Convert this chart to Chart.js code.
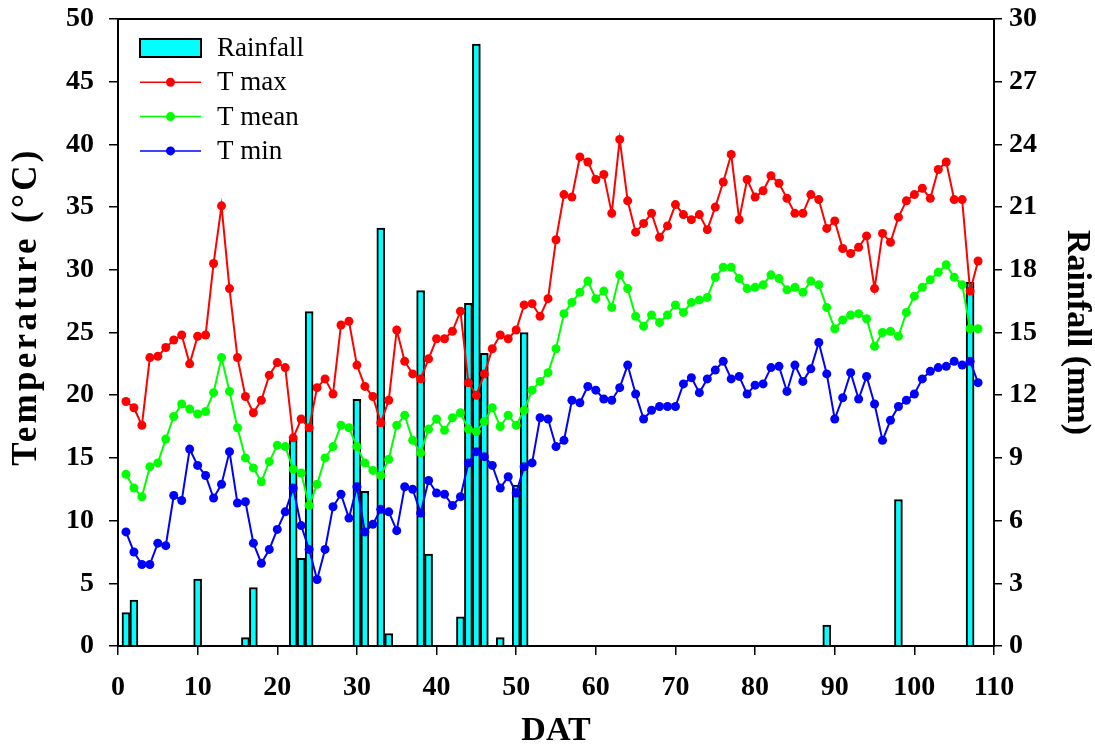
<!DOCTYPE html>
<html>
<head>
<meta charset="utf-8">
<script src="https://cdn.jsdelivr.net/npm/chart.js@4.4.1/dist/chart.umd.min.js"></script>
<style>
    html, body { margin: 0; padding: 0; background: #fff; }
    #wrap { width: 1095px; height: 748px; }
</style>
</head>
<body>
<div id="wrap"><canvas id="weather_chart" width="1095" height="748"></canvas></div>
<script>
"use strict";

// Days after transplanting (1..108)
var days = Array.from({ length: 108 }, (_, i) => i + 1);

// Daily temperatures (°C)
var tMax = [
    19.5, 19.0, 17.6, 23.0, 23.1, 23.8, 24.4, 24.8, 22.5, 24.7,
    24.8, 30.5, 35.1, 28.5, 23.0, 19.9, 18.6, 19.6, 21.6, 22.6,
    22.2, 16.6, 18.1, 17.4, 20.6, 21.3, 20.1, 25.6, 25.9, 22.4,
    20.7, 19.9, 17.8, 19.6, 25.2, 22.7, 21.7, 21.3, 22.9, 24.5,
    24.5, 25.1, 26.7, 21.0, 20.0, 21.7, 23.7, 24.8, 24.5, 25.2,
    27.2, 27.3, 26.3, 27.7, 32.4, 36.0, 35.8, 39.0, 38.6, 37.2,
    37.6, 34.5, 40.4, 35.5, 33.0, 33.7, 34.5, 32.6, 33.5, 35.2,
    34.4, 34.0, 34.4, 33.2, 35.0, 37.0, 39.2, 34.0, 37.2, 35.8,
    36.3, 37.5, 36.9, 35.7, 34.5, 34.5, 36.0, 35.6, 33.3, 33.9,
    31.7, 31.3, 31.8, 32.7, 28.5, 32.9, 32.2, 34.2, 35.5, 36.0,
    36.5, 35.7, 38.0, 38.6, 35.6, 35.6, 28.3, 30.7
];
var tMean = [
    13.7, 12.6, 11.9, 14.3, 14.6, 16.5, 18.3, 19.3, 18.9, 18.5,
    18.7, 20.2, 23.0, 20.3, 17.4, 15.0, 14.2, 13.1, 14.7, 16.0,
    15.9, 14.1, 13.8, 11.2, 12.9, 15.0, 15.9, 17.6, 17.4, 15.9,
    14.6, 14.0, 13.6, 14.9, 17.6, 18.4, 16.4, 15.4, 17.3, 18.1,
    17.2, 18.2, 18.6, 17.3, 17.1, 17.9, 19.0, 17.5, 18.4, 17.6,
    18.8, 20.4, 21.1, 21.8, 23.7, 26.5, 27.4, 28.2, 29.1, 27.7,
    28.3, 27.0, 29.6, 28.5, 26.3, 25.5, 26.4, 25.8, 26.4, 27.2,
    26.6, 27.4, 27.6, 27.8, 29.4, 30.2, 30.2, 29.3, 28.5, 28.6,
    28.8, 29.6, 29.3, 28.4, 28.6, 28.2, 29.1, 28.8, 27.0, 25.3,
    26.0, 26.4, 26.5, 26.1, 23.9, 25.0, 25.1, 24.7, 26.6, 27.9,
    28.6, 29.2, 29.8, 30.4, 29.4, 28.8, 25.3, 25.3
];
var tMin = [
    9.1, 7.5, 6.5, 6.5, 8.2, 8.0, 12.0, 11.6, 15.7, 14.4,
    13.6, 11.8, 12.9, 15.5, 11.4, 11.5, 8.2, 6.6, 7.7, 9.3,
    10.7, 12.6, 9.6, 7.7, 5.3, 7.7, 11.1, 12.1, 10.2, 12.7,
    9.1, 9.7, 10.9, 10.7, 9.2, 12.7, 12.5, 10.6, 13.2, 12.2,
    12.1, 11.2, 11.9, 14.6, 15.5, 15.1, 14.4, 12.6, 13.5, 12.2,
    14.3, 14.6, 18.2, 18.1, 15.9, 16.4, 19.6, 19.4, 20.7, 20.4,
    19.7, 19.6, 20.6, 22.4, 20.1, 18.1, 18.8, 19.1, 19.1, 19.1,
    20.9, 21.4, 20.2, 21.3, 22.0, 22.7, 21.3, 21.5, 20.1, 20.8,
    20.9, 22.2, 22.3, 20.3, 22.4, 21.1, 22.1, 24.2, 21.7, 18.1,
    19.8, 21.8, 19.7, 21.5, 19.3, 16.4, 18.0, 19.1, 19.6, 20.1,
    21.3, 21.9, 22.2, 22.3, 22.7, 22.4, 22.7, 21.0
];

// Rainfall (mm), only the rainy days
var rainDays = [1, 2, 10, 16, 17, 22, 23, 24, 30, 31, 33, 34, 38, 39, 43, 44, 45, 46, 48, 50, 51, 89, 98, 107];
var rainMm = [1.6, 2.2, 3.2, 0.4, 2.8, 9.9, 4.2, 16.0, 11.8, 7.4, 20.0, 0.6, 17.0, 4.4, 1.4, 16.4, 28.8, 14.0, 0.4, 7.7, 15.0, 1.0, 7.0, 17.4];

// Tick labels
var datTicks = [0, 10, 20, 30, 40, 50, 60, 70, 80, 90, 100, 110];
var tempTicks = [0, 5, 10, 15, 20, 25, 30, 35, 40, 45, 50];
var rainTicks = [0, 3, 6, 9, 12, 15, 18, 21, 24, 27, 30];

var tempTitle = 'Temperature (°C)';

var serif = "'Liberation Serif', 'Times New Roman', Times, serif";

function toPoints(xs, ys) {
    return xs.map(function (x, i) { return { x: x, y: ys[i] }; });
}

function tickSetter(list) {
    return function (scale) {
        scale.ticks = list.map(function (v) { return { value: v }; });
    };
}

// fixed axis box sizes so the plot area lands where the figure has it
function fixWidth(w) {
    return function (scale) {
        scale.width = w;
        scale.paddingTop = 0;
        scale.paddingBottom = 0;
    };
}

// Box around the plot area (top side has no axis of its own)
var plotFrame = {
    id: 'plotFrame',
    afterDraw: function (chart) {
        var a = chart.chartArea, ctx = chart.ctx;
        ctx.save();
        ctx.strokeStyle = '#000';
        ctx.lineWidth = 2;
        ctx.strokeRect(a.left, a.top, a.right - a.left, a.bottom - a.top);
        ctx.restore();
    }
};

// Left axis title: the figure sets it a bit spaced out and above centre
var leftTitle = {
    id: 'leftTitle',
    afterDraw: function (chart) {
        var ctx = chart.ctx, a = chart.chartArea;
        ctx.save();
        ctx.translate(27, (a.top + a.bottom) / 2 - 26);
        ctx.rotate(-Math.PI / 2);
        ctx.font = 'bold 35px ' + serif;
        ctx.fillStyle = '#000';
        ctx.textAlign = 'center';
        ctx.textBaseline = 'middle';
        if ('letterSpacing' in ctx) {
            ctx.letterSpacing = '3.3px';
        }
        ctx.fillText(tempTitle, 0, 0);
        ctx.restore();
    }
};

// Legend drawn inside the plot, top-left
var insideLegend = {
    id: 'insideLegend',
    afterDraw: function (chart) {
        var ctx = chart.ctx, a = chart.chartArea;
        var x0 = a.left + 22, y0 = a.top + 29, gap = 34.3, symW = 61;
        ctx.save();
        ctx.font = '27px ' + serif;
        ctx.textBaseline = 'middle';
        chart.data.datasets.forEach(function (ds, i) {
            var y = y0 + i * gap;
            if (ds.type === 'bar') {
                ctx.fillStyle = ds.backgroundColor;
                ctx.fillRect(x0, y - 9, symW, 18);
                ctx.strokeStyle = '#000';
                ctx.lineWidth = 2;
                ctx.strokeRect(x0, y - 9, symW, 18);
            } else {
                ctx.strokeStyle = ds.borderColor;
                ctx.lineWidth = 1.5;
                ctx.beginPath();
                ctx.moveTo(x0, y);
                ctx.lineTo(x0 + symW, y);
                ctx.stroke();
                ctx.fillStyle = ds.backgroundColor;
                ctx.beginPath();
                ctx.arc(x0 + symW / 2, y, 4.5, 0, Math.PI * 2);
                ctx.fill();
            }
            ctx.fillStyle = '#000';
            ctx.fillText(ds.label, x0 + symW + 16, y + 1);
        });
        ctx.restore();
    }
};

function lineSet(label, values, color) {
    return {
        type: 'line',
        label: label,
        data: toPoints(days, values),
        yAxisID: 'y',
        borderColor: color,
        backgroundColor: color,
        borderWidth: 2,
        pointRadius: 4.5,
        pointBorderWidth: 0,
        pointBackgroundColor: color,
        tension: 0,
        order: 1
    };
}

var tickFont = { family: serif, size: 28, weight: 'bold' };
var titleFont = { family: serif, size: 34, weight: 'bold', lineHeight: 1 };

var config = {
    type: 'line',
    data: {
        datasets: [{
            type: 'bar',
            label: 'Rainfall',
            data: toPoints(rainDays, rainMm),
            yAxisID: 'y2',
            backgroundColor: '#00FFFF',
            borderColor: '#000000',
            borderWidth: 2,
            barPercentage: 1,
            categoryPercentage: 1,
            order: 10
        },
        lineSet('T max', tMax, '#FF0000'),
        lineSet('T mean', tMean, '#00FF00'),
        lineSet('T min', tMin, '#0000FF')]
    },
    options: {
        responsive: false,
        animation: false,
        devicePixelRatio: 1,
        layout: { padding: { top: 19, left: 0, right: 0, bottom: 0 } },
        scales: {
            x: {
                type: 'linear',
                position: 'bottom',
                min: 0,
                max: 110,
                offset: false,
                afterBuildTicks: tickSetter(datTicks),
                afterFit: function (scale) {
                    scale.height = 102;
                    scale.paddingLeft = 0;
                    scale.paddingRight = 0;
                },
                grid: { offset: false, drawOnChartArea: false, drawTicks: true, tickLength: 9, color: '#000', lineWidth: 1.5 },
                border: { display: false },
                ticks: { font: tickFont, color: '#000', padding: 16, maxRotation: 0, autoSkip: false },
                title: { display: true, text: 'DAT', font: titleFont, color: '#000', padding: { top: 0, bottom: 0 } }
            },
            y: {
                position: 'left',
                min: 0,
                max: 50,
                afterBuildTicks: tickSetter(tempTicks),
                afterFit: fixWidth(118),
                grid: { drawOnChartArea: false, drawTicks: true, tickLength: 9, color: '#000', lineWidth: 1.5 },
                border: { display: false },
                ticks: { font: tickFont, color: '#000', padding: 15 },
                title: { display: false }
            },
            y2: {
                position: 'right',
                min: 0,
                max: 30,
                afterBuildTicks: tickSetter(rainTicks),
                afterFit: fixWidth(101),
                grid: { drawOnChartArea: false, drawTicks: true, tickLength: 8, color: '#000', lineWidth: 1.5 },
                border: { display: false },
                ticks: { font: tickFont, color: '#000', padding: 7 },
                title: { display: true, text: 'Rainfall (mm)', font: titleFont, color: '#000', padding: { top: 1, bottom: 0 } }
            }
        },
        plugins: {
            legend: { display: false },
            tooltip: { enabled: false }
        }
    },
    plugins: [plotFrame, leftTitle, insideLegend]
};

var ctx = document.getElementById('weather_chart').getContext('2d');
var weatherChart = new Chart(ctx, config);
</script>
</body>
</html>
